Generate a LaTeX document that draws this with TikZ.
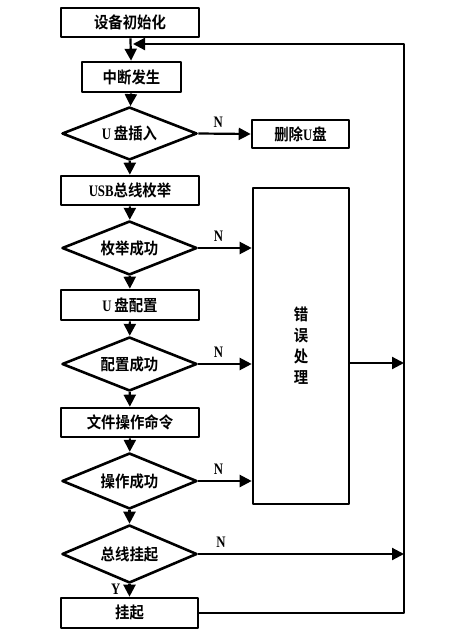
\documentclass[tikz,border=0pt]{standalone}
\usepackage{fontspec}
\newfontfamily\cjk{Noto Sans CJK SC}[BoldFont=* Bold,FakeStretch=0.9]
\newfontfamily\lat{Liberation Serif}[FakeStretch=0.8]
\usetikzlibrary{arrows.meta,shapes.geometric,calc}

\begin{document}
\begin{tikzpicture}[x=1pt,y=-1pt,>={Triangle[length=12pt,width=12pt]},line join=round,
  box/.style={draw,line width=2.6pt,minimum width=138pt,minimum height=29pt,inner sep=0pt,
    font=\cjk\bfseries\fontsize{16}{18}\selectfont},
  decide/.style={diamond,aspect=2.5,draw,line width=2.6pt,minimum width=135pt,minimum height=54pt,inner sep=0pt,
    font=\cjk\bfseries\fontsize{16}{18}\selectfont},
  flow/.style={->,line width=2.2pt},
  nlab/.style={font=\lat\bfseries\fontsize{16}{16}\selectfont,inner sep=1pt}]
  \useasboundingbox (0,0) rectangle (459,642);
  % main column
  \node[box] (init) at (130,22.5) {设备初始化};
  \node[box,minimum width=99pt,minimum height=30pt] (intr) at (131.5,77) {中断发生};
  \node[decide,minimum height=53pt] (ins) at (129.5,133.5) {{\lat U}\,盘插入};
  \node[box,minimum width=97pt,minimum height=28pt] (del) at (300.5,134) {删除{\lat U}盘};
  \node[box] (enum) at (130,190.5) {{\lat USB}总线枚举};
  \node[decide] (enumok) at (129.5,248) {枚举成功};
  \node[box,minimum width=96pt,minimum height=316pt,align=center,
    font=\cjk\bfseries\fontsize{16}{21}\selectfont] (err) at (301,346) {错\\误\\处\\理};
  \node[box,minimum height=30pt] (cfg) at (130,305) {{\lat U}\,盘配置};
  \node[decide] (cfgok) at (129.5,364) {配置成功};
  \node[box] (file) at (130,422.5) {文件操作命令};
  \node[decide,minimum height=56pt] (fileok) at (129.5,481) {操作成功};
  \node[decide,minimum height=58pt] (busok) at (129.5,554) {总线挂起};
  \node[box,minimum width=137pt,minimum height=30pt] (susp) at (129.5,613) {挂起};
  % return path
  \coordinate (rtop) at (404,44);
  \coordinate (join) at (133,44);
  \coordinate (rbus) at (404,554);
  \coordinate (rerr) at (404,363);
  \draw[flow] (init) -- (intr);
  \draw[flow] (intr) -- (ins);
  \draw[flow] (ins.east) -- (del.west) node[nlab,pos=0.38,above=4pt] {N};
  \draw[flow] (ins) -- (enum);
  \draw[flow] (enum) -- (enumok);
  \draw[flow] (enumok.east) -- (enumok.east -| err.west) node[nlab,pos=0.38,above=4pt] {N};
  \draw[flow] (enumok) -- (cfg);
  \draw[flow] (cfg) -- (cfgok);
  \draw[flow] (cfgok.east) -- (cfgok.east -| err.west) node[nlab,pos=0.38,above=4pt] {N};
  \draw[flow] (cfgok) -- (file);
  \draw[flow] (file) -- (fileok);
  \draw[flow] (fileok.east) -- (fileok.east -| err.west) node[nlab,pos=0.38,above=4pt] {N};
  \draw[flow] (fileok) -- (busok);
  \draw[flow] (busok.east) -- (rbus) node[nlab,pos=0.11,above=4pt] {N};
  \draw[flow] (busok) -- (susp) node[nlab,pos=0.4,left=7pt] {Y};
  \draw[flow] (err.east |- rerr) -- (rerr);
  \draw[flow] (susp.east) -| (rtop) -- (join);
\end{tikzpicture}
\end{document}
